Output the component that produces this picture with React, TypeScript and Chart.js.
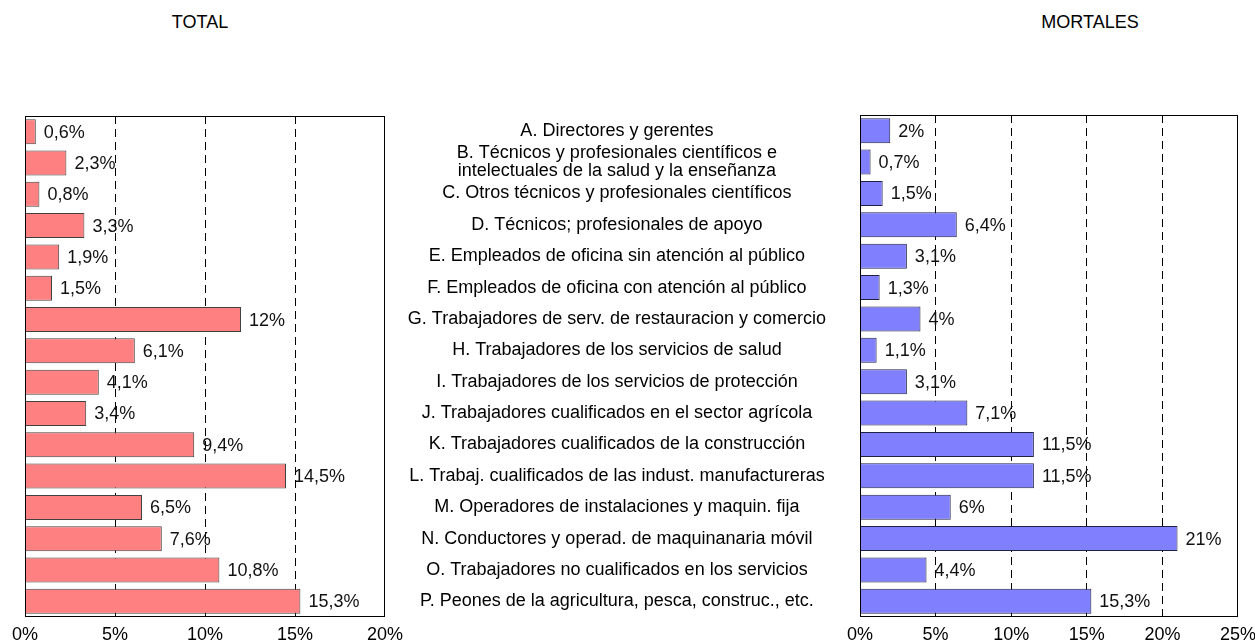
import React, { useEffect, useRef } from "react";
import { Chart, registerables } from "chart.js";

Chart.register(...registerables);

const categories: (string | string[])[] = [
  "A. Directores y gerentes",
  ["B. Técnicos y profesionales científicos e", "intelectuales de la salud y la enseñanza"],
  "C. Otros técnicos y profesionales científicos",
  "D. Técnicos; profesionales de apoyo",
  "E. Empleados de oficina sin atención al público",
  "F. Empleados de oficina con atención al público",
  "G. Trabajadores de serv. de restauracion y comercio",
  "H. Trabajadores de los servicios de salud",
  "I. Trabajadores de los servicios de protección",
  "J. Trabajadores cualificados en el sector agrícola",
  "K. Trabajadores cualificados de la construcción",
  "L. Trabaj. cualificados de las indust. manufactureras",
  "M. Operadores de instalaciones y maquin. fija",
  "N. Conductores y operad. de maquinanaria móvil",
  "O. Trabajadores no cualificados en los servicios",
  "P. Peones de la agricultura, pesca, construc., etc.",
];

const totalValues = [0.6, 2.3, 0.8, 3.3, 1.9, 1.5, 12, 6.1, 4.1, 3.4, 9.4, 14.5, 6.5, 7.6, 10.8, 15.3];
const mortalValues = [2, 0.7, 1.5, 6.4, 3.1, 1.3, 4, 1.1, 3.1, 7.1, 11.5, 11.5, 6, 21, 4.4, 15.3];

const totalTitle = "TOTAL";
const mortalTitle = "MORTALES";
const totalMax = 20;
const mortalMax = 25;

const FONT = "Arial, 'Liberation Sans', sans-serif";
const FS = 18;

const fmt = (v: number) => String(v).replace(".", ",") + "%";

const framePlugin = {
  id: "frame",
  afterDraw(chart: any) {
    const { ctx, chartArea } = chart;
    const { left, top, right, bottom } = chartArea;
    ctx.save();
    ctx.strokeStyle = "#000";
    ctx.lineWidth = 1;
    ctx.strokeRect(Math.round(left) + 0.5, Math.round(top) + 0.5, Math.round(right - left) - 1, Math.round(bottom - top) - 1);
    ctx.restore();
  },
};

const labelPlugin = {
  id: "barLabels",
  afterDatasetsDraw(chart: any) {
    const { ctx } = chart;
    const meta = chart.getDatasetMeta(0);
    const data = chart.data.datasets[0].data as number[];
    ctx.save();
    ctx.font = `${FS}px ${FONT}`;
    ctx.fillStyle = "#111";
    ctx.textAlign = "left";
    ctx.textBaseline = "middle";
    meta.data.forEach((bar: any, i: number) => {
      ctx.fillText(fmt(data[i]), bar.x + 8, bar.y + 1);
    });
    ctx.restore();
  },
};

function makeX(max: number) {
  return {
    min: 0,
    max,
    afterFit: (s: any) => {
      s.height = 27;
      s.paddingLeft = 0;
      s.paddingRight = 0;
    },
    ticks: {
      stepSize: 5,
      color: "#000",
      font: { size: FS, family: FONT },
      padding: 7,
      callback: (v: any) => v + "%",
    },
    grid: {
      drawTicks: false,
      lineWidth: 1,
      color: (c: any) =>
        c.tick && (c.tick.value === 0 || c.tick.value === max) ? "rgba(0,0,0,0)" : "#000",
    },
    border: { display: false, dash: [8, 5] },
  };
}

export default function App() {
  const leftRef = useRef<HTMLCanvasElement>(null);
  const rightRef = useRef<HTMLCanvasElement>(null);

  useEffect(() => {
    document.body.style.margin = "0";
    Chart.defaults.font.family = FONT;
    Chart.defaults.color = "#000";

    const left = new Chart(leftRef.current!, {
      type: "bar",
      data: {
        labels: categories as any,
        datasets: [
          {
            data: totalValues,
            backgroundColor: "#FF8080",
            borderColor: "#404040",
            borderWidth: 1,
            barPercentage: 0.8,
            categoryPercentage: 1,
          },
        ],
      },
      options: {
        indexAxis: "y",
        animation: false,
        responsive: false,
        maintainAspectRatio: false,
        layout: { padding: { top: 116, left: 25, right: 35, bottom: 0 } },
        plugins: { legend: { display: false }, tooltip: { enabled: false } },
        scales: {
          x: makeX(totalMax) as any,
          y: { display: false, grid: { display: false } },
        },
      },
      plugins: [framePlugin, labelPlugin],
    });

    const right = new Chart(rightRef.current!, {
      type: "bar",
      data: {
        labels: categories as any,
        datasets: [
          {
            data: mortalValues,
            backgroundColor: "#8080FF",
            borderColor: "#202040",
            borderWidth: 1,
            barPercentage: 0.8,
            categoryPercentage: 1,
          },
        ],
      },
      options: {
        indexAxis: "y",
        animation: false,
        responsive: false,
        maintainAspectRatio: false,
        layout: { padding: { top: 115, left: 0, right: 17, bottom: 0 } },
        plugins: { legend: { display: false }, tooltip: { enabled: false } },
        scales: {
          x: makeX(mortalMax) as any,
          y: {
            afterFit: (s: any) => {
              s.width = 465;
              s.paddingTop = 0;
              s.paddingBottom = 0;
            },
            grid: { display: false, drawTicks: false },
            border: { display: false },
            ticks: {
              autoSkip: false,
              crossAlign: "center",
              padding: 34,
              color: "#000",
              font: { size: FS, family: FONT, lineHeight: 1.05 },
            },
          },
        },
      },
      plugins: [framePlugin, labelPlugin],
    });

    return () => {
      left.destroy();
      right.destroy();
    };
  }, []);

  const titleStyle: React.CSSProperties = {
    position: "absolute",
    top: 12,
    font: `${FS}px ${FONT}`,
    color: "#000",
    transform: "translateX(-50%)",
    whiteSpace: "nowrap",
  };

  return (
    <div style={{ position: "relative", width: 1255, height: 644, background: "#fff", overflow: "hidden" }}>
      <div style={{ ...titleStyle, left: 200 }}>{totalTitle}</div>
      <div style={{ ...titleStyle, left: 1090 }}>{mortalTitle}</div>
      <canvas ref={leftRef} width={420} height={644} style={{ position: "absolute", left: 0, top: 0 }} />
      <canvas ref={rightRef} width={860} height={644} style={{ position: "absolute", left: 395, top: 0 }} />
    </div>
  );
}
